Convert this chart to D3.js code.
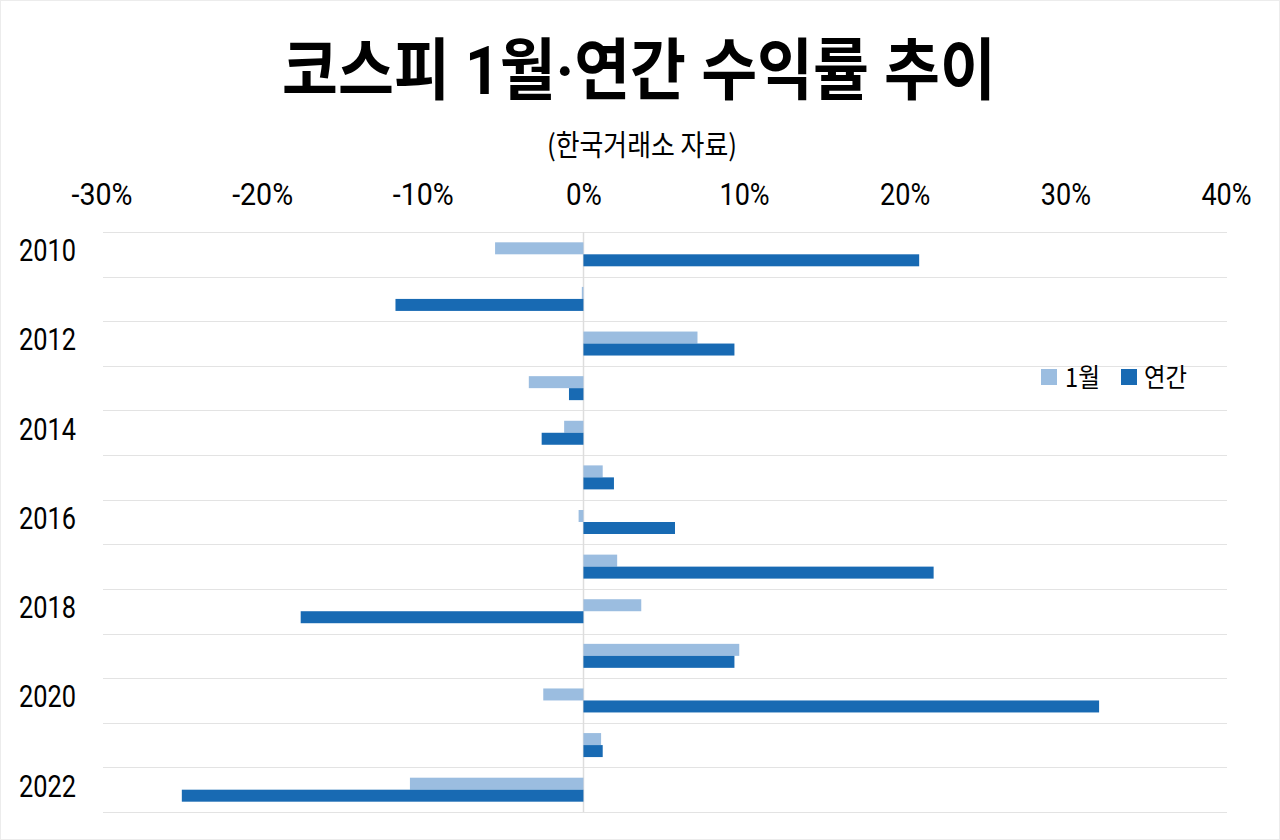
<!DOCTYPE html>
<html>
<head>
<meta charset="utf-8">
<script src="https://cdn.jsdelivr.net/npm/d3@7"></script>
<style>
  html, body { margin: 0; padding: 0; background: #fff; }
  svg { display: block; }
</style>
</head>
<body>
<svg id="chart" width="1280" height="840"></svg>
<script>
// ---- data ----
const years = [2010, 2011, 2012, 2013, 2014, 2015, 2016, 2017, 2018, 2019, 2020, 2021, 2022];
const janReturn = [-5.5, -0.1, 7.1, -3.4, -1.2, 1.2, -0.3, 2.1, 3.6, 9.7, -2.5, 1.1, -10.8];
const annualReturn = [20.9, -11.7, 9.4, -0.9, -2.6, 1.9, 5.7, 21.8, -17.6, 9.4, 32.1, 1.2, -25.0];
const xTicks = [-30, -20, -10, 0, 10, 20, 30, 40];
const yLabelYears = [2010, 2012, 2014, 2016, 2018, 2020, 2022];
const seriesKeys = ["jan", "annual"];
const seriesNames = ["1월", "연간"];
const seriesColors = ["#9bbde0", "#186ab3"];
const titleText = "코스피 1월·연간 수익률 추이";
const subtitleText = "(한국거래소 자료)";

const rows = years.map((y, i) => ({ year: y, jan: janReturn[i], annual: annualReturn[i] }));

const svg = d3.select("#chart");
const W = 1280, H = 840;
const KR = "'Noto Sans CJK KR', 'Noto Sans', sans-serif";
const NUM = "Roboto, 'Liberation Sans', sans-serif";
const MIX = "Roboto, 'Noto Sans CJK KR', sans-serif";

// condensed width for numeric labels
function condensedWidth(s) {
  let w = 0;
  for (const c of s) {
    if (c === "%") w += 21.7;
    else if (c === "-") w += 10.8;
    else w += 14.25;
  }
  return w;
}

// frame
svg.append("rect").attr("x", 0.5).attr("y", 0.5).attr("width", W - 1).attr("height", H - 1)
  .attr("fill", "#fff").attr("stroke", "#ececec");

// scales
const x = d3.scaleLinear().domain([-30, 40]).range([101.5, 1226]);
const y = d3.scaleBand().domain(years).range([232, 812]).paddingInner(0).paddingOuter(0);
const ySub = d3.scaleBand().domain(seriesKeys).range([0, y.bandwidth()]).paddingInner(0).paddingOuter(0.86);
const color = d3.scaleOrdinal().domain(seriesKeys).range(seriesColors);

// title
svg.append("text")
  .attr("x", 639).attr("y", 94)
  .attr("text-anchor", "middle")
  .attr("font-family", MIX).attr("font-weight", 700).attr("font-size", 67)
  .attr("textLength", 714).attr("lengthAdjust", "spacingAndGlyphs")
  .attr("fill", "#000")
  .text(titleText);

svg.append("text")
  .attr("x", 642).attr("y", 156)
  .attr("text-anchor", "middle")
  .attr("font-family", KR).attr("font-weight", 400).attr("font-size", 29)
  .attr("textLength", 190).attr("lengthAdjust", "spacingAndGlyphs")
  .attr("fill", "#000")
  .text(subtitleText);

// gridlines (band boundaries)
const bounds = years.map(yr => y(yr)).concat([y(years[years.length - 1]) + y.bandwidth()]);
svg.append("g").selectAll("line").data(bounds).join("line")
  .attr("x1", 103).attr("x2", 1227)
  .attr("y1", d => Math.round(d) + 0.5).attr("y2", d => Math.round(d) + 0.5)
  .attr("stroke", "#e3e3e3").attr("stroke-width", 1);

// zero line
svg.append("line")
  .attr("x1", Math.round(x(0)) + 0.5).attr("x2", Math.round(x(0)) + 0.5)
  .attr("y1", 232).attr("y2", 812)
  .attr("stroke", "#dddddd").attr("stroke-width", 1.5);

// bars
const groups = svg.append("g").selectAll("g").data(rows).join("g")
  .attr("transform", d => `translate(0,${y(d.year)})`);
groups.selectAll("rect")
  .data(d => seriesKeys.map(k => ({ key: k, value: d[k] })))
  .join("rect")
  .attr("x", d => x(Math.min(0, d.value)))
  .attr("width", d => Math.abs(x(d.value) - x(0)))
  .attr("y", d => ySub(d.key))
  .attr("height", ySub.bandwidth())
  .attr("fill", d => color(d.key));

// x axis (top)
const xAxis = svg.append("g").attr("transform", "translate(0,205)")
  .call(d3.axisTop(x).tickValues(xTicks).tickFormat(d => d + "%").tickSize(0).tickPadding(0));
xAxis.select(".domain").remove();
xAxis.selectAll("text")
  .attr("font-family", NUM).attr("font-size", 31).attr("fill", "#000")
  .attr("lengthAdjust", "spacingAndGlyphs")
  .attr("textLength", function () { return condensedWidth(this.textContent); });

// y axis (left)
const yAxis = svg.append("g").attr("transform", "translate(79,-3)")
  .call(d3.axisLeft(y).tickValues(yLabelYears).tickSize(0).tickPadding(3));
yAxis.select(".domain").remove();
yAxis.selectAll("text")
  .attr("font-family", NUM).attr("font-size", 31).attr("fill", "#000")
  .attr("lengthAdjust", "spacingAndGlyphs")
  .attr("textLength", function () { return condensedWidth(this.textContent); });

// legend
const legendX = [1041, 1121];
const legendTextX = [1065, 1144];
const legendW = [35, 43];
const legend = svg.append("g");
seriesKeys.forEach((k, i) => {
  legend.append("rect")
    .attr("x", legendX[i]).attr("y", 369).attr("width", 16).attr("height", 16)
    .attr("fill", color(k));
  legend.append("text")
    .attr("x", legendTextX[i]).attr("y", 387)
    .attr("font-family", KR).attr("font-size", 26)
    .attr("textLength", legendW[i]).attr("lengthAdjust", "spacingAndGlyphs")
    .attr("fill", "#000")
    .text(seriesNames[i]);
});
</script>
</body>
</html>
